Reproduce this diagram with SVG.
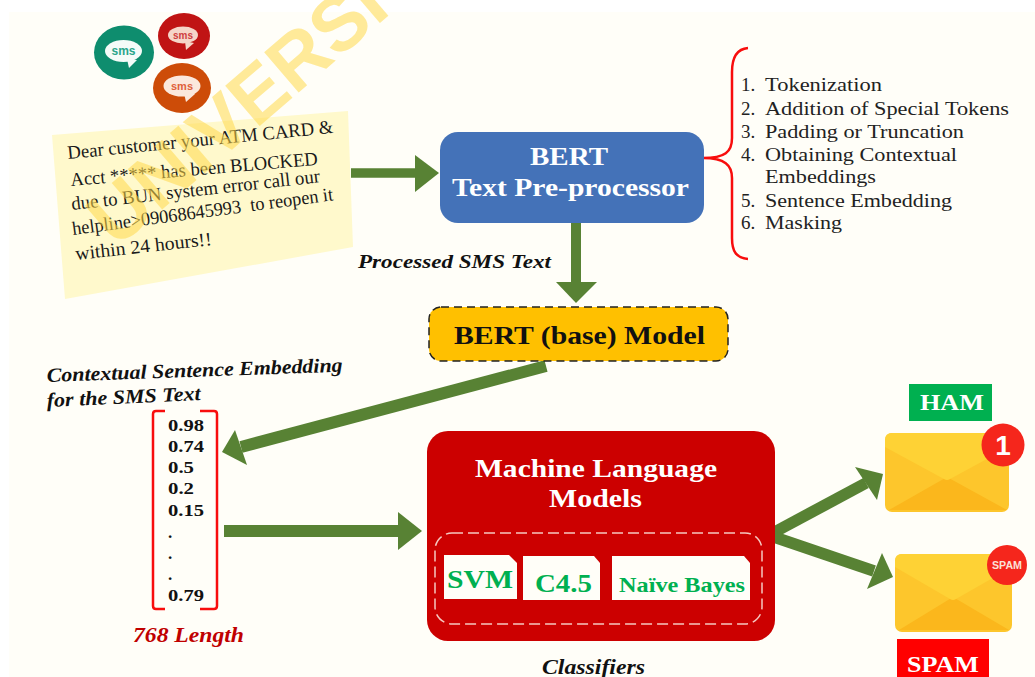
<svg xmlns="http://www.w3.org/2000/svg" width="1035" height="677" viewBox="0 0 1035 677">
<style>
text{font-family:"Liberation Serif","Times New Roman",serif}
.b{font-weight:700}
.bi{font-weight:700;font-style:italic;fill:#111}
.w{fill:#fff;font-weight:700}
.g{fill:#00b050;font-weight:700}
.n{font-size:19px;fill:#1a1a1a}
.l{font-size:19px;fill:#222}
.v{font-size:17px;font-weight:700;fill:#111}
.c{fill:none;stroke:#588234}
.h{fill:#588234}
.s{font-family:"Liberation Sans",Arial,sans-serif;font-weight:700;text-anchor:middle}
</style>
<rect width="1035" height="677" fill="#fff"/>
<rect x="9" y="12" width="1026" height="665" fill="#fffef8"/>
<g id="sms-icons">
<ellipse cx="124" cy="52.500" rx="30" ry="27" fill="#0e8d6e"/><ellipse cx="123.500" cy="51" rx="18.500" ry="11" fill="#f4fbf8"/><path d="M127 59l2 9 8-8z" fill="#f4fbf8"/><text class="s" x="123.500" y="55" font-size="12" fill="#2aa58a">sms</text>
<ellipse cx="184" cy="36" rx="26" ry="23" fill="#c01414"/><ellipse cx="183" cy="35" rx="15" ry="8.500" fill="#f5d5c8"/><path d="M185 41l1 9 8-7z" fill="#f5d5c8"/><text class="s" x="183" y="39" font-size="10" fill="#cf4040">sms</text>
<ellipse cx="182" cy="88" rx="29" ry="25" fill="#cd4c08"/><ellipse cx="182" cy="86" rx="18.500" ry="10.500" fill="#fbe8dc"/><path d="M184 93l2 9 9-8z" fill="#fbe8dc"/><text class="s" x="182" y="90" font-size="11" fill="#e0603a">sms</text>
</g>
<g id="sms-note">
<polygon points="52,135 348,111 353,247 65,299" fill="#fff9cc"/>
<text class="n" x="68" y="159" transform="rotate(-5.600 68 159)" textLength="267" lengthAdjust="spacingAndGlyphs">Dear customer  your ATM CARD &amp;</text>
<text class="n" x="71" y="186" transform="rotate(-4.900 71 186)" textLength="248" lengthAdjust="spacingAndGlyphs">Acct ***** has been BLOCKED</text>
<text class="n" x="72" y="210" transform="rotate(-6.400 72 210)" textLength="250" lengthAdjust="spacingAndGlyphs">due to BUN system error call our</text>
<text class="n" x="73" y="235" transform="rotate(-7.600 73 235)" textLength="263" lengthAdjust="spacingAndGlyphs" xml:space="preserve">helpline&gt;09068645993  to reopen it</text>
<text class="n" x="76" y="260" transform="rotate(-6.300 76 260)" textLength="137" lengthAdjust="spacingAndGlyphs">within 24 hours!!</text>
</g>
<text id="watermark" transform="translate(116 249) rotate(-40.600)" font-size="77" style="font-family:'Liberation Sans',Arial,sans-serif;font-weight:700" fill="#ffd84a" fill-opacity=".55">UNIVERSI</text>
<g id="connectors">
<path class="c" stroke-width="9.500" d="M351 173H416"/><polygon class="h" points="415,155 439,173 415,192"/>
<path class="c" stroke-width="10" d="M576 222V283"/><polygon class="h" points="556,282 597,282 576,303"/>
<path class="c" stroke-width="12" d="M546 366L241 447"/><polygon class="h" points="235,430 222,452 247,465"/>
<path class="c" stroke-width="12" d="M224 531H399"/><polygon class="h" points="398,512 422,531 398,550"/>
<path class="c" stroke-width="11.500" d="M771 534L866 483"/><polygon class="h" points="855,467 883,474 877,500"/>
<path class="c" stroke-width="11.500" d="M771 536L874 571"/><polygon class="h" points="882,553 893,577 867,589"/>
<path d="M748 48C736 49 732 58 732 72V138C732 152 725 158 703 158C725 158 732 165 732 178V238C732 251 736 258 748 259" fill="none" stroke="#f80d0d" stroke-width="2.500"/>
</g>
<g id="preprocessor">
<rect x="440" y="132" width="264" height="91" rx="18" fill="#4472b8"/>
<text class="w" x="530" y="165" font-size="25" textLength="78" lengthAdjust="spacingAndGlyphs">BERT</text>
<text class="w" x="452" y="196" font-size="25" textLength="237" lengthAdjust="spacingAndGlyphs">Text Pre-processor</text>
</g>
<g id="steps">
<text class="l" x="741" y="91">1.</text><text class="l" x="765" y="91" textLength="117" lengthAdjust="spacingAndGlyphs">Tokenization</text>
<text class="l" x="741" y="115">2.</text><text class="l" x="765" y="115" textLength="244" lengthAdjust="spacingAndGlyphs">Addition of Special Tokens</text>
<text class="l" x="741" y="138">3.</text><text class="l" x="765" y="138" textLength="199" lengthAdjust="spacingAndGlyphs">Padding or Truncation</text>
<text class="l" x="741" y="161">4.</text><text class="l" x="765" y="161" textLength="192" lengthAdjust="spacingAndGlyphs">Obtaining Contextual</text>
<text class="l" x="765" y="183" textLength="111" lengthAdjust="spacingAndGlyphs">Embeddings</text>
<text class="l" x="741" y="207">5.</text><text class="l" x="765" y="207" textLength="187" lengthAdjust="spacingAndGlyphs">Sentence Embedding</text>
<text class="l" x="741" y="229">6.</text><text class="l" x="765" y="229" textLength="77" lengthAdjust="spacingAndGlyphs">Masking</text>
</g>
<text class="bi" x="358" y="268" font-size="19" textLength="193" lengthAdjust="spacingAndGlyphs">Processed SMS Text</text>
<g id="bert-model">
<rect x="429" y="307" width="299" height="54" rx="12" fill="#ffc000" stroke="#222" stroke-width="1.500" stroke-dasharray="8 5"/>
<text class="b" x="454" y="344" font-size="26" fill="#111" textLength="251" lengthAdjust="spacingAndGlyphs">BERT (base) Model</text>
</g>
<g id="embedding">
<text class="bi" font-size="20" transform="rotate(-2 47 382)" x="47" y="382" textLength="296" lengthAdjust="spacingAndGlyphs">Contextual Sentence Embedding</text>
<text class="bi" font-size="20" x="47" y="407" textLength="154" lengthAdjust="spacingAndGlyphs" transform="rotate(-2.600 47 407)">for the SMS Text</text>
<path d="M165 411H156Q153 411 153 414V606Q153 609 156 609H165M200 411H214Q217 411 217 414V606Q217 609 214 609H200" fill="none" stroke="#f80d0d" stroke-width="2.500"/>
<text class="v" x="168" y="431" textLength="36" lengthAdjust="spacingAndGlyphs">0.98</text>
<text class="v" x="168" y="452" textLength="36" lengthAdjust="spacingAndGlyphs">0.74</text>
<text class="v" x="168" y="473" textLength="26" lengthAdjust="spacingAndGlyphs">0.5</text>
<text class="v" x="168" y="494" textLength="26" lengthAdjust="spacingAndGlyphs">0.2</text>
<text class="v" x="168" y="516" textLength="36" lengthAdjust="spacingAndGlyphs">0.15</text>
<text class="v" x="168" y="538">.</text><text class="v" x="168" y="559">.</text><text class="v" x="168" y="580">.</text>
<text class="v" x="168" y="601" textLength="36" lengthAdjust="spacingAndGlyphs">0.79</text>
<text class="bi" x="133" y="642" font-size="21" textLength="111" lengthAdjust="spacingAndGlyphs" style="fill:#c00000">768 Length</text>
</g>
<g id="ml-models">
<rect x="427" y="431" width="348" height="210" rx="21" fill="#cc0000"/>
<text class="w" x="475" y="477" font-size="25.500" textLength="242" lengthAdjust="spacingAndGlyphs">Machine Language</text>
<text class="w" x="549" y="507" font-size="25.500" textLength="93" lengthAdjust="spacingAndGlyphs">Models</text>
<rect x="435" y="533" width="327" height="91" rx="17" fill="none" stroke="#f5c8c0" stroke-width="1.500" stroke-dasharray="11 5"/>
<polygon points="444,555 509,555 517,563 517,599 444,599" fill="#fffef8"/>
<polygon points="523,556 594,556 600,563 600,600 523,600" fill="#fffef8"/>
<polygon points="612,556 744,556 750,563 750,600 612,600" fill="#fffef8"/>
<text class="g" x="447" y="588" font-size="25" textLength="66" lengthAdjust="spacingAndGlyphs">SVM</text>
<text class="g" x="535" y="592" font-size="25" textLength="57" lengthAdjust="spacingAndGlyphs">C4.5</text>
<text class="g" x="619" y="592" font-size="21.500" textLength="126" lengthAdjust="spacingAndGlyphs">Naïve Bayes</text>
</g>
<text class="bi" x="542" y="674" font-size="21" textLength="103" lengthAdjust="spacingAndGlyphs">Classifiers</text>
<g id="ham">
<rect x="909" y="384" width="83" height="37" fill="#00b050"/>
<text class="w" x="920" y="410" font-size="22.500" textLength="64" lengthAdjust="spacingAndGlyphs">HAM</text>
<rect x="885" y="433" width="124" height="79" rx="7" fill="#fdc62c"/>
<polygon points="889,510 947,477 1007,510" fill="#fbb71c"/>
<path d="M885 447V440Q885 433 892 433H1002Q1009 433 1009 440V447L950 479Q947 481 944 479Z" fill="#fed235"/>
<circle cx="1003" cy="445" r="21.500" fill="#f5261c"/>
<text class="s" x="1003" y="455" font-size="28" fill="#fff">1</text>
</g>
<g id="spam">
<rect x="895" y="554" width="117" height="78" rx="7" fill="#fdc62c"/>
<polygon points="899,630 953,597 1009,630" fill="#fbb71c"/>
<path d="M895 567V561Q895 554 902 554H1005Q1012 554 1012 561V567L956 599Q953 601 950 599Z" fill="#fed235"/>
<circle cx="1007" cy="565" r="20" fill="#f5261c"/>
<text class="s" x="992" y="569" font-size="10" fill="#fbe0d8" textLength="30" lengthAdjust="spacingAndGlyphs" style="text-anchor:start">SPAM</text>
<rect x="897" y="639" width="92" height="38" fill="#ff0000"/>
<text class="w" x="907" y="672" font-size="24" textLength="72" lengthAdjust="spacingAndGlyphs">SPAM</text>
</g>
</svg>
